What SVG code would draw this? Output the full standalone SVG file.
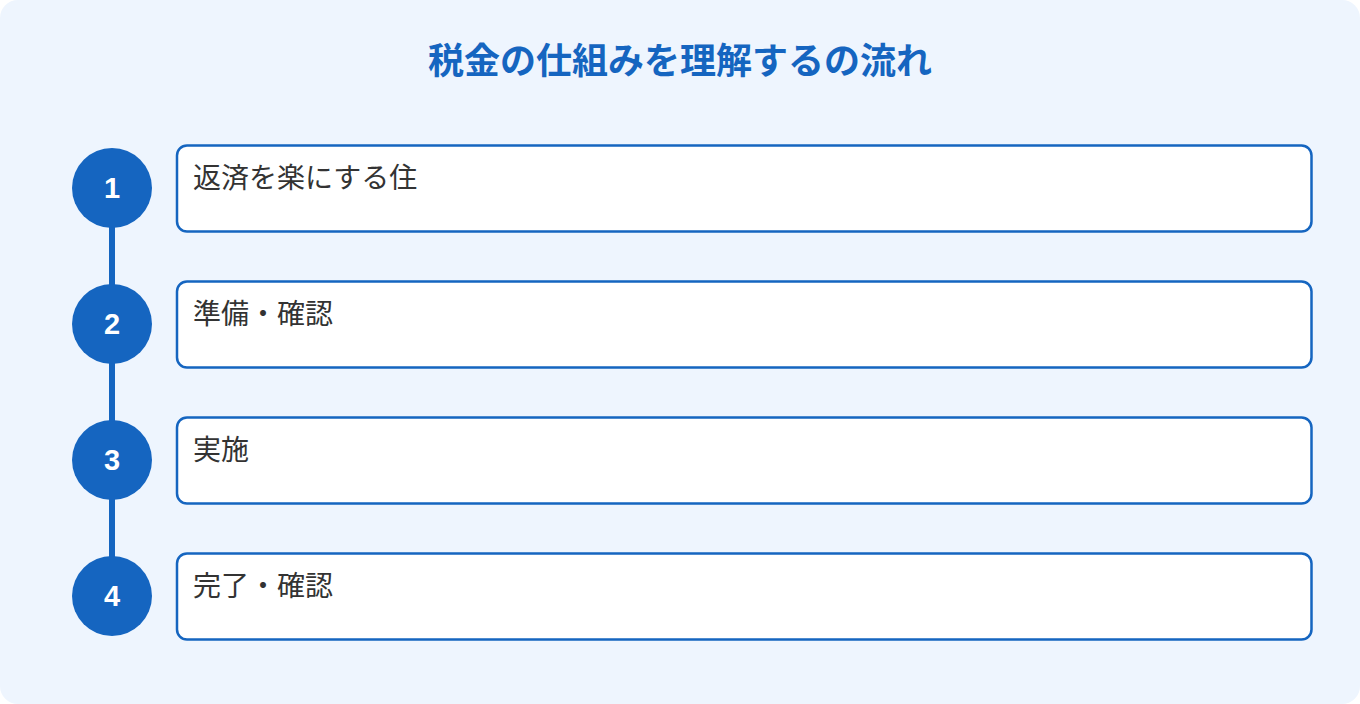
<svg xmlns="http://www.w3.org/2000/svg" width="1360" height="704" viewBox="0 0 1360 704">
<defs>
<style>
.bg{fill:#EEF5FE}
.title{font-family:"Noto Sans CJK JP","Noto Sans",sans-serif;font-weight:700;font-size:36px;fill:#1565C0}
.box{fill:#FFFFFF;stroke:#1565C0;stroke-width:2.5}
.circ{fill:#1565C0}
.num{font-family:"Liberation Sans","Arial",sans-serif;font-weight:700;font-size:29px;fill:#FFFFFF}
.label{font-family:"Noto Sans CJK JP","Noto Sans",sans-serif;font-size:28px;fill:#333333}
.conn{stroke:#1565C0;stroke-width:6;fill:none}
</style>
</defs>
<rect width="1360" height="704" fill="#FFFFFF"/>
<rect class="bg" x="0" y="0" width="1360" height="704" rx="18"/>
<text class="title" x="680" y="74" text-anchor="middle">税金の仕組みを理解するの流れ</text>
<g id="connectors">
<line class="conn" x1="112" y1="224" x2="112" y2="290"/>
<line class="conn" x1="112" y1="360" x2="112" y2="426"/>
<line class="conn" x1="112" y1="496" x2="112" y2="562"/>
</g>
<g id="step1">
<circle class="circ" cx="112" cy="188" r="40"/>
<text class="num" x="112" y="198" text-anchor="middle">1</text>
<rect class="box" x="177" y="145.5" width="1134.5" height="86" rx="10"/>
<text class="label" x="193" y="188">返済を楽にする住</text>
</g>
<g id="step2">
<circle class="circ" cx="112" cy="324" r="40"/>
<text class="num" x="112" y="334" text-anchor="middle">2</text>
<rect class="box" x="177" y="281.5" width="1134.5" height="86" rx="10"/>
<text class="label" x="193" y="324">準備・確認</text>
</g>
<g id="step3">
<circle class="circ" cx="112" cy="460" r="40"/>
<text class="num" x="112" y="470" text-anchor="middle">3</text>
<rect class="box" x="177" y="417.5" width="1134.5" height="86" rx="10"/>
<text class="label" x="193" y="460">実施</text>
</g>
<g id="step4">
<circle class="circ" cx="112" cy="596" r="40"/>
<text class="num" x="112" y="606" text-anchor="middle">4</text>
<rect class="box" x="177" y="553.5" width="1134.5" height="86" rx="10"/>
<text class="label" x="193" y="596">完了・確認</text>
</g>
</svg>
